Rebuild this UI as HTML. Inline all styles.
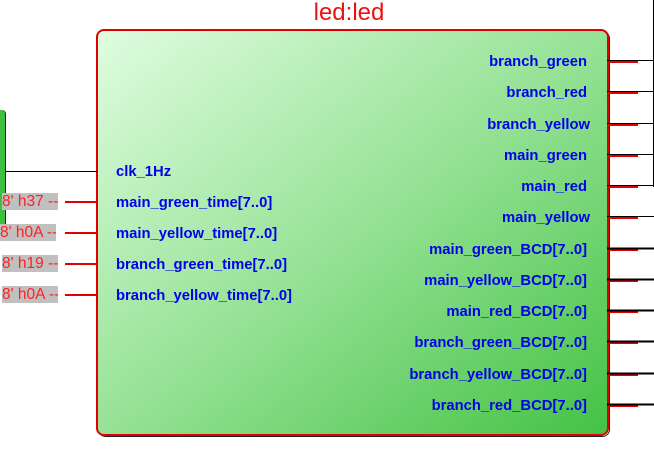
<!DOCTYPE html>
<html><head><style>
body{margin:0;width:654px;height:473px;background:#fff;position:relative;overflow:hidden;font-family:"Liberation Sans",Arial,sans-serif}
.t{position:absolute;font-size:14.8px;font-weight:bold;color:#0000ee;line-height:16px;white-space:nowrap;margin-top:1px}
.r{text-align:right;right:67px}
.c{position:absolute;background:#c0c0c0;color:#ff2020;font-size:15.5px;line-height:17px;height:17px;width:56px;left:2px;white-space:nowrap;overflow:hidden}
</style></head><body>
<div style="position:absolute;left:0;width:654px;text-align:center;padding-left:44px;box-sizing:border-box;top:0px;font-size:24px;line-height:26px;color:#ee1111;">led:led</div>
<div style="position:absolute;left:0;top:110px;width:5px;height:118px;background:#3fbf3f;border-right:1px solid #222;border-radius:0 4px 0 0"></div>
<svg width="654" height="473" style="position:absolute;left:0;top:0">
<defs><linearGradient id="g" x1="0" y1="0" x2="1" y2="1"><stop offset="0" stop-color="#e0fde0"/><stop offset="0.5" stop-color="#96e296"/><stop offset="1" stop-color="#44c244"/></linearGradient></defs>
<rect x="98.5" y="31.5" width="511" height="405" rx="7" fill="none" stroke="#222" stroke-width="1"/>
<rect x="97" y="30" width="511" height="405" rx="7" fill="url(#g)" stroke="#e00000" stroke-width="2"/>
<g stroke-width="1">
<line x1="6" y1="171.5" x2="97" y2="171.5" stroke="#000"/>
<g stroke="#e00000" stroke-width="2"><line x1="65" y1="202" x2="97" y2="202"/><line x1="65" y1="233" x2="97" y2="233"/><line x1="65" y1="264" x2="97" y2="264"/><line x1="65" y1="295" x2="97" y2="295"/></g>
<line x1="653.5" y1="0" x2="653.5" y2="187" stroke="#000"/>
</g>
<g id="o"></g>
</svg>
<script>
var ys=[61,92,124,155,186,217,249,280,311,342,374,405],s='';
ys.forEach(function(y,i){s+='<line x1="607" y1="'+(y+1)+'" x2="638" y2="'+(y+1)+'" stroke="#e00000" stroke-width="2"/><line x1="607" y1="'+(y-0.5)+'" x2="654" y2="'+(y-0.5)+'" stroke="#000" stroke-width="'+(i>5?2:1)+'"/>';});
document.getElementById('o').innerHTML=s;
</script>
<div class="t" style="left:116px;top:163px">clk_1Hz</div>
<div class="t" style="left:116px;top:194px">main_green_time[7..0]</div>
<div class="t" style="left:116px;top:225px">main_yellow_time[7..0]</div>
<div class="t" style="left:116px;top:256px">branch_green_time[7..0]</div>
<div class="t" style="left:116px;top:287px">branch_yellow_time[7..0]</div>
<div class="c" style="top:193px">8' h37 --</div>
<div class="c" style="top:224px;left:0">8' h0A --</div>
<div class="c" style="top:255px">8' h19 --</div>
<div class="c" style="top:286px">8' h0A --</div>
<div class="t r" style="top:53px">branch_green</div>
<div class="t r" style="top:84px">branch_red</div>
<div class="t r" style="top:116px;right:64px">branch_yellow</div>
<div class="t r" style="top:147px">main_green</div>
<div class="t r" style="top:178px">main_red</div>
<div class="t r" style="top:209px;right:64px">main_yellow</div>
<div class="t r" style="top:241px">main_green_BCD[7..0]</div>
<div class="t r" style="top:272px">main_yellow_BCD[7..0]</div>
<div class="t r" style="top:303px">main_red_BCD[7..0]</div>
<div class="t r" style="top:334px">branch_green_BCD[7..0]</div>
<div class="t r" style="top:366px">branch_yellow_BCD[7..0]</div>
<div class="t r" style="top:397px">branch_red_BCD[7..0]</div>
</body></html>
